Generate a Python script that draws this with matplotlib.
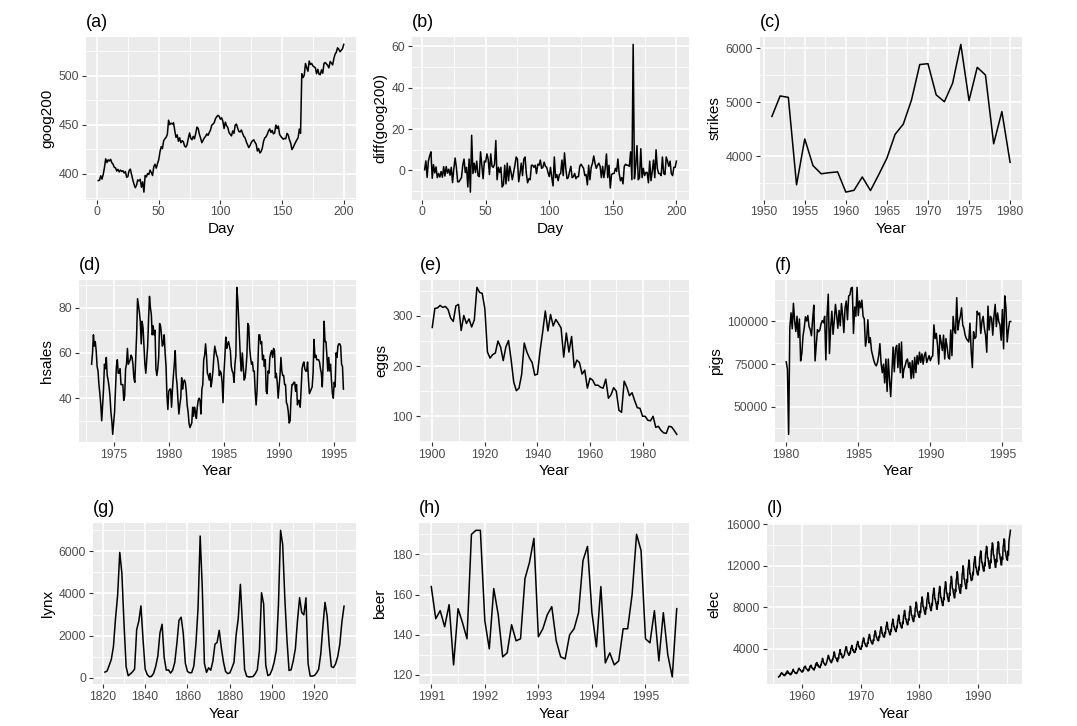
import numpy as np
import matplotlib
matplotlib.use("Agg")
import matplotlib.pyplot as plt
from matplotlib.ticker import MultipleLocator, FuncFormatter

plt.rcParams['font.family'] = ['Liberation Sans', 'DejaVu Sans']

# ---------------- data ----------------
goog200 = [
    392.8, 393.1, 397.7, 394.3, 398.9, 406.0, 415.0, 411.2, 414.0, 412.8,
    414.5, 411.0, 409.5, 406.3, 405.8, 402.5, 404.3, 401.6, 403.5, 402.2,
    402.8, 400.5, 402.0, 396.1, 397.0, 403.0, 404.5, 399.0, 393.5, 389.0,
    385.5, 388.0, 393.5, 392.5, 394.0, 386.0, 391.5, 381.0, 398.0, 396.5,
    400.0, 399.0, 403.5, 401.0, 398.0, 407.0, 409.5, 405.5, 410.0, 414.0,
    422.0, 427.5, 425.5, 433.5, 435.5, 437.0, 440.0, 454.5, 450.0, 451.5,
    450.5, 452.0, 444.0, 437.0, 439.5, 433.0, 436.5, 431.5, 433.5, 432.5,
    428.0, 427.0, 429.5, 436.0, 441.5, 436.0, 434.5, 438.0, 435.5, 441.0,
    447.5, 446.0, 440.0, 436.0, 431.5, 434.0, 436.5, 438.0, 440.5, 439.0,
    442.0, 444.5, 449.5, 450.5, 452.0, 456.0, 458.0, 459.5, 458.5, 455.5,
    457.0, 453.5, 446.0, 452.5, 449.0, 447.0, 442.0, 440.0, 438.5, 443.5,
    441.0, 449.5, 450.5, 446.5, 443.0, 442.5, 444.5, 441.0, 438.0, 436.5,
    432.5, 429.5, 426.5, 428.5, 431.5, 433.5, 434.5, 432.0, 430.0, 423.0,
    425.5, 421.0, 422.5, 426.0, 433.0, 436.5, 437.5, 440.0, 443.5, 445.5,
    442.0, 444.0, 440.5, 441.5, 449.5, 446.0, 448.5, 440.0, 438.0, 436.5,
    435.0, 436.0, 435.5, 441.0, 439.5, 434.5, 431.0, 424.5, 426.5, 429.5,
    432.0, 434.5, 436.5, 445.5, 441.0, 502.0, 498.0, 500.5, 512.5, 508.0,
    504.5, 515.0, 511.5, 512.5, 510.0, 509.0, 508.0, 502.0, 506.5, 501.5,
    501.0, 506.0, 502.5, 512.5, 513.5, 512.0, 510.5, 508.0, 514.5, 513.0,
    511.0, 517.5, 522.0, 524.0, 528.5, 527.0, 524.5, 526.0, 527.5, 532.0,
]

strikes_years = list(range(1951, 1981))
strikes = [4737, 5117, 5091, 3468, 4320, 3825, 3673, 3694, 3708, 3333,
           3367, 3614, 3362, 3655, 3963, 4405, 4595, 5045, 5700, 5716,
           5138, 5010, 5353, 6074, 5031, 5648, 5506, 4230, 4827, 3885]

hsales_start = 1973
hsales = [
    55, 60, 68, 63, 65, 61, 54, 52, 46, 42, 37, 30,
    37, 44, 55, 53, 58, 50, 48, 45, 41, 34, 30, 24,
    29, 34, 44, 54, 57, 51, 51, 53, 46, 46, 46, 39,
    41, 53, 55, 62, 55, 56, 57, 59, 58, 55, 49, 47,
    57, 68, 84, 81, 78, 74, 64, 74, 71, 63, 55, 51,
    57, 63, 75, 85, 80, 77, 68, 72, 68, 70, 53, 50,
    53, 58, 73, 72, 68, 63, 64, 68, 60, 54, 41, 35,
    43, 44, 44, 36, 44, 50, 55, 61, 50, 46, 39, 33,
    37, 40, 49, 44, 47, 48, 47, 43, 37, 34, 29, 27,
    28, 29, 36, 32, 36, 34, 31, 36, 39, 40, 39, 33,
    44, 46, 57, 59, 64, 59, 51, 50, 48, 51, 45, 48,
    52, 58, 63, 61, 59, 58, 55, 50, 52, 51, 47, 38,
    51, 58, 67, 62, 64, 65, 63, 61, 54, 52, 51, 47,
    55, 59, 89, 84, 75, 66, 57, 52, 60, 54, 48, 49,
    53, 59, 73, 72, 62, 58, 55, 56, 52, 52, 43, 37,
    43, 55, 68, 68, 64, 65, 57, 59, 54, 57, 43, 42,
    52, 51, 58, 60, 61, 58, 62, 61, 49, 51, 47, 40,
    45, 50, 58, 52, 50, 50, 46, 46, 38, 37, 34, 29,
    30, 40, 46, 46, 47, 47, 43, 46, 37, 39, 39, 36,
    44, 53, 55, 56, 53, 52, 52, 56, 48, 42, 43, 44,
    45, 51, 66, 58, 59, 57, 57, 57, 56, 53, 51, 45,
    56, 74, 65, 65, 59, 52, 58, 52, 55, 48, 42, 40,
    47, 45, 60, 58, 63, 64, 64, 63, 55, 54, 44,
]

eggs_start = 1900
eggs = [
    277, 315, 316, 321, 317, 319, 313, 296, 289, 320,
    323, 271, 301, 285, 294, 278, 292, 357, 347, 345,
    315, 228, 216, 223, 226, 250, 238, 211, 238, 251,
    213, 168, 151, 156, 183, 246, 228, 216, 207, 182,
    184, 230, 268, 310, 270, 303, 280, 293, 285, 276,
    218, 266, 228, 259, 197, 212, 207, 184, 192, 156,
    176, 172, 162, 162, 158, 156, 174, 136, 143, 157,
    150, 112, 108, 170, 158, 141, 147, 131, 117, 116,
    100, 100, 92, 91, 100, 78, 80, 72, 67, 66,
    80, 79, 72, 64,
]

pigs_start = 1980
pigs = [
    76378, 71947, 33873, 96428, 105084, 95741, 110647, 100331, 94133, 103055, 90595, 101457,
    76889, 81291, 91643, 96228, 102736, 100264, 103491, 97027, 95240, 91680, 101259, 109564,
    76892, 85773, 95210, 93951, 94982, 98633, 100500, 99200, 103000, 77500, 103200, 116000,
    81200, 96500, 106000, 92500, 100500, 110000, 103500, 96000, 106500, 97500, 110500, 103500,
    93500, 108000, 112000, 101000, 115000, 115500, 119500, 120000, 93000, 108500, 103000, 120000,
    103500, 112000, 108000, 112500, 103000, 101500, 85500, 90000, 101000, 87500, 90500, 83000,
    80000, 77000, 75000, 74000, 76000, 80000, 87000, 75500, 70000, 75000, 64000, 78000,
    59000, 78000, 66000, 56000, 70000, 85000, 70500, 84000, 86000, 73000, 87000, 70000,
    88000, 67000, 72000, 74000, 77000, 78000, 73000, 76000, 66500, 77000, 67000, 79000,
    70000, 80000, 75000, 82000, 76000, 81000, 75000, 80000, 82000, 76000, 78000, 80000,
    77000, 79000, 80000, 98000, 90000, 93000, 86000, 75000, 92000, 88000, 83000, 92000,
    78000, 90000, 85000, 79000, 78000, 95000, 80000, 103000, 95000, 93000, 114000, 95000,
    100000, 103000, 108000, 98000, 96000, 92000, 90000, 89000, 88000, 99000, 83000, 73000,
    94000, 90000, 91000, 106000, 104000, 105000, 93000, 100000, 103000, 96000, 92000, 82000,
    109000, 95000, 103000, 102000, 92000, 103000, 110000, 97000, 105000, 100000, 98000, 89000,
    107000, 84000, 115000, 108000, 88000, 95000, 100000, 100000,
]

lynx_start = 1821
lynx = [
    269, 321, 585, 871, 1475, 2821, 3928, 5943, 4950, 2577,
    523, 98, 184, 279, 409, 2285, 2685, 3409, 1824, 409,
    151, 45, 68, 213, 546, 1033, 2129, 2536, 957, 361,
    377, 225, 360, 731, 1638, 2725, 2871, 2119, 684, 299,
    236, 245, 552, 1623, 3311, 6721, 4254, 687, 255, 473,
    358, 784, 1594, 1676, 2251, 1426, 756, 299, 201, 229,
    469, 736, 2042, 2811, 4431, 2511, 389, 73, 39, 49,
    59, 188, 377, 1292, 4031, 3495, 587, 105, 153, 387,
    758, 1307, 3465, 6991, 6313, 3794, 1836, 345, 382, 808,
    1388, 2713, 3800, 3091, 2985, 3790, 674, 81, 80, 108,
    229, 399, 1132, 2432, 3574, 2935, 1537, 529, 485, 662,
    1000, 1590, 2657, 3396,
]

beer_start = 1991
beer = [
    164, 148, 152, 144, 155, 125, 153, 146, 138, 190, 192, 192,
    147, 133, 163, 150, 129, 131, 145, 137, 138, 168, 176, 188,
    139, 143, 150, 154, 137, 129, 128, 140, 143, 151, 177, 184,
    151, 134, 164, 126, 131, 125, 127, 143, 143, 160, 190, 182,
    138, 136, 152, 127, 151, 130, 119, 153,
]

elec_start = 1956
elec = [
    1254, 1290, 1379, 1346, 1535, 1555, 1655, 1651, 1500, 1538, 1486, 1394,
    1409, 1387, 1543, 1502, 1693, 1616, 1841, 1787, 1631, 1649, 1586, 1500,
    1497, 1463, 1648, 1595, 1777, 1824, 1994, 1835, 1787, 1699, 1633, 1645,
    1597, 1577, 1709, 1756, 1936, 2052, 2105, 2016, 1914, 1925, 1824, 1765,
    1721, 1752, 1914, 1857, 2159, 2195, 2287, 2276, 2096, 2055, 2004, 1924,
    1851, 1839, 2019, 1937, 2270, 2251, 2382, 2364, 2129, 2110, 2072, 1980,
    1995, 1932, 2171, 2162, 2489, 2424, 2641, 2630, 2324, 2412, 2284, 2186,
    2184, 2144, 2379, 2383, 2717, 2774, 3051, 2891, 2613, 2600, 2493, 2410,
    2390, 2463, 2616, 2734, 2970, 3125, 3342, 3207, 2964, 2919, 2764, 2732,
    2622, 2698, 2950, 2895, 3200, 3408, 3679, 3473, 3154, 3107, 3052, 2918,
    2786, 2739, 3125, 3033, 3486, 3540, 3889, 3537, 3412, 3488, 3157, 3090,
    3109, 3230, 3318, 3396, 3787, 3886, 4147, 4177, 3818, 3640, 3563, 3459,
    3340, 3370, 3650, 3560, 4000, 4070, 4300, 4190, 3830, 3850, 3680, 3600,
    3650, 3640, 3980, 3900, 4360, 4440, 4690, 4570, 4190, 4200, 4030, 3940,
    3920, 3910, 4270, 4180, 4670, 4760, 5030, 4900, 4500, 4490, 4320, 4230,
    4180, 4190, 4560, 4470, 4990, 5080, 5370, 5230, 4800, 4790, 4610, 4510,
    4440, 4450, 4850, 4750, 5300, 5400, 5710, 5560, 5100, 5110, 4900, 4800,
    4750, 4760, 5180, 5080, 5670, 5780, 6100, 5940, 5450, 5460, 5240, 5130,
    5100, 5110, 5570, 5450, 6090, 6210, 6550, 6380, 5860, 5850, 5630, 5510,
    5320, 5330, 5810, 5690, 6350, 6470, 6840, 6660, 6110, 6120, 5870, 5750,
    5630, 5640, 6140, 6020, 6720, 6850, 7230, 7040, 6460, 6470, 6210, 6080,
    5980, 5990, 6530, 6390, 7140, 7280, 7680, 7480, 6870, 6860, 6600, 6460,
    6290, 6300, 6860, 6720, 7510, 7650, 8080, 7870, 7220, 7230, 6940, 6790,
    6600, 6610, 7200, 7050, 7880, 8030, 8480, 8250, 7580, 7570, 7280, 7130,
    7000, 7000, 7630, 7470, 8350, 8510, 8980, 8750, 8030, 8040, 7710, 7550,
    7300, 7310, 7970, 7800, 8720, 8880, 9380, 9130, 8380, 8390, 8050, 7890,
    7660, 7660, 8350, 8180, 9140, 9310, 9830, 9570, 8790, 8780, 8440, 8270,
    7790, 7790, 8500, 8320, 9290, 9470, 10000, 9740, 8940, 8930, 8580, 8410,
    8140, 8150, 8880, 8700, 9710, 9900, 10450, 10180, 9340, 9350, 8970, 8790,
    8540, 8540, 9310, 9120, 10190, 10380, 10960, 10670, 9800, 9790, 9410, 9220,
    8890, 8890, 9700, 9490, 10610, 10810, 11410, 11110, 10200, 10210, 9800, 9600,
    9330, 9330, 10180, 9960, 11130, 11340, 11980, 11660, 10710, 10700, 10280, 10070,
    9770, 9770, 10660, 10430, 11660, 11880, 12540, 12210, 11210, 11220, 10770, 10550,
    10650, 10650, 11350, 11120, 12170, 12400, 12870, 12750, 11820, 11820, 11470, 11230,
    11100, 11100, 11830, 11590, 12690, 12930, 13420, 13300, 12320, 12320, 11960, 11710,
    11470, 11470, 12220, 11970, 13100, 13360, 13860, 13730, 12730, 12730, 12350, 12100,
    11740, 11740, 12510, 12260, 13420, 13670, 14190, 14060, 13030, 13030, 12640, 12380,
    11830, 11830, 12610, 12350, 13520, 13780, 14300, 14170, 13130, 13130, 12740, 12480,
    12060, 12060, 12850, 12590, 13780, 14050, 14580, 14440, 13380, 13380, 12990, 12720,
    12600, 12500, 13400, 13000, 14300, 14700, 15000, 15400,
]

assert len(goog200) == 200, len(goog200)
assert len(hsales) == 275, len(hsales)
assert len(eggs) == 94, len(eggs)
assert len(pigs) == 188, len(pigs)
assert len(lynx) == 114, len(lynx)
assert len(beer) == 56, len(beer)
assert len(elec) == 476, len(elec)

# ---------------- figure ----------------
W, H = 1077, 726
fig = plt.figure(figsize=(W / 100, H / 100), dpi=100)
fig.patch.set_facecolor('white')

fmt = FuncFormatter(lambda v, p: f"{(0.0 if abs(v) < 1e-9 else v):.0f}")


def panel(box, x, y, title, xlabel, ylabel, xmaj, ymaj):
    l, r, t, b = box
    ax = fig.add_axes([l / W, (H - b) / H, (r - l) / W, (b - t) / H])
    ax.set_facecolor('#EBEBEB')
    ax.plot(x, y, color='black', lw=1.1, zorder=3, solid_joinstyle='round')
    ax.xaxis.set_major_locator(MultipleLocator(xmaj))
    ax.xaxis.set_minor_locator(MultipleLocator(xmaj / 2))
    ax.yaxis.set_major_locator(MultipleLocator(ymaj))
    ax.yaxis.set_minor_locator(MultipleLocator(ymaj / 2))
    ax.xaxis.set_major_formatter(fmt)
    ax.yaxis.set_major_formatter(fmt)
    ax.set_axisbelow(True)
    ax.grid(True, which='major', color='white', lw=1.2)
    ax.grid(True, which='minor', color='white', lw=0.6)
    for s in ax.spines.values():
        s.set_visible(False)
    ax.tick_params(which='major', direction='out', length=3, width=0.8,
                   color='#333333', labelcolor='#4D4D4D', labelsize=8.8, pad=2)
    ax.tick_params(which='minor', length=0)
    ax.set_title(title, loc='left', fontsize=13, pad=7, color='black')
    ax.set_xlabel(xlabel, fontsize=11, labelpad=2.5)
    ax.set_ylabel(ylabel, fontsize=11, labelpad=3)
    return ax


days = np.arange(1, len(goog200) + 1)
g = np.array(goog200)

panel((86, 356, 37, 199.5), days, g, "(a)", "Day", "goog200", 50, 50)
panel((412, 689, 37, 199.5), days[1:], np.diff(g), "(b)", "Day", "diff(goog200)", 50, 20)
panel((760, 1022, 37, 199.5), strikes_years, strikes, "(c)", "Year", "strikes", 5, 1000)

panel((79, 356, 280, 441.7), hsales_start + np.arange(len(hsales)) / 12, hsales,
      "(d)", "Year", "hsales", 5, 20)
panel((420, 689, 280, 441.7), eggs_start + np.arange(len(eggs)), eggs,
      "(e)", "Year", "eggs", 20, 100)
panel((775, 1022, 280, 441.7), pigs_start + np.arange(len(pigs)) / 12, pigs,
      "(f)", "Year", "pigs", 5, 25000)

panel((93, 356, 523, 684.3), lynx_start + np.arange(len(lynx)), lynx,
      "(g)", "Year", "lynx", 20, 2000)
panel((419, 689, 523, 684.3), beer_start + np.arange(len(beer)) / 12, beer,
      "(h)", "Year", "beer", 1, 20)
panel((767, 1022, 523, 684.3), elec_start + np.arange(len(elec)) / 12, elec,
      "(l)", "Year", "elec", 10, 4000)

fig.savefig("out.png", dpi=100, facecolor='white')
